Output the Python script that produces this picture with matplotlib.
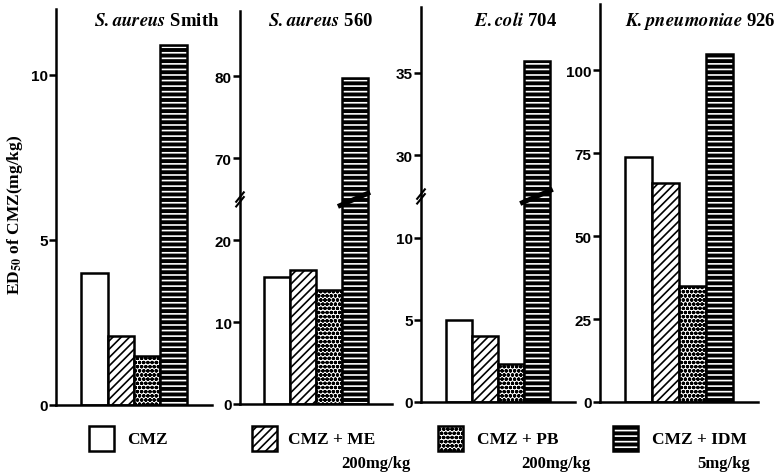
import numpy as np
import matplotlib
matplotlib.use("Agg")
import matplotlib.pyplot as plt
from matplotlib.patches import Rectangle

plt.rcParams['font.family'] = ['Liberation Serif', 'DejaVu Serif']
plt.rcParams['font.weight'] = 'bold'
plt.rcParams['mathtext.fontset'] = 'stix'
plt.rcParams['hatch.linewidth'] = 1.2

# data (ED50 of CMZ, mg/kg)
groups = ["CMZ", "CMZ+ME", "CMZ+PB", "CMZ+IDM"]
doses = ["", "200mg/kg", "200mg/kg", "5mg/kg"]
titles = [r"$\mathbfit{S.aureus}$ Smith", r"$\mathbfit{S.aureus}$ 560",
          r"$\mathbfit{E.coli}$ 704", r"$\mathbfit{K.pneumoniae}$ 926"]
sa_smith = [4.0, 2.1, 1.5, 10.9]
sa_560 = [15.5, 16.4, 13.9, 79.8]
ec_704 = [5.0, 4.0, 2.3, 35.7]
kp_926 = [74, 66, 35, 105]
values = [sa_smith, sa_560, ec_704, kp_926]

# axis setup per panel: top, ticks, break (lo, hi) or None
tops = [12, 88, 39, 120]
ticks = [[0, 5, 10], [0, 10, 20, 70, 80], [0, 5, 10, 30, 35], [0, 25, 50, 75, 100]]
breaks = [None, (25, 65), (12.5, 27.5), None]

faces = ["white", "white", "white", "black"]
hatches = [None, "////", "oooo", "---"]

# axes rectangles in pixels (left, right, bottom_y, top_y)
W, H = 779, 477
boxes = [(56, 212, 406, 10), (240, 392, 405, 12), (421, 575, 403, 8), (600, 758, 403, 5)]
title_x = [157, 321, 516, 700]


def broken(lo, hi):
    gap = 0.02

    def fwd(y):
        y = np.asarray(y, float)
        return np.where(y <= lo, y, np.where(y >= hi, lo + gap + (y - hi),
                                              lo + (y - lo) * gap / (hi - lo)))

    def inv(v):
        v = np.asarray(v, float)
        return np.where(v <= lo, v, np.where(v >= lo + gap, v - lo - gap + hi,
                                              lo + (v - lo) * (hi - lo) / gap))
    return fwd, inv


def draw_bars(ax, vals):
    x = np.arange(len(vals))
    for i in range(len(vals)):
        if i == 3:
            ax.bar(x[i], vals[i], width=1.0, color="black", hatch=hatches[i],
                   edgecolor="white", linewidth=0, zorder=2)
            ax.bar(x[i], vals[i], width=1.0, fill=False, edgecolor="black",
                   linewidth=1.8, zorder=3)
        else:
            ax.bar(x[i], vals[i], width=1.0, color=faces[i], hatch=hatches[i],
                   edgecolor="black", linewidth=1.8, zorder=2)


fig = plt.figure(figsize=(W / 100, H / 100), dpi=100)

for k in range(4):
    l, r, b, t = boxes[k]
    ax = fig.add_axes([l / W, 1 - b / H, (r - l) / W, (b - t) / H])
    if breaks[k] is not None:
        fwd, inv = broken(*breaks[k])
        ax.set_yscale('function', functions=(fwd, inv))
    draw_bars(ax, values[k])
    ax.set_xlim(-1.45, 4.45)
    ax.set_ylim(0, tops[k])
    ax.set_yticks(ticks[k])
    ax.set_xticks([])
    for s in ["top", "right"]:
        ax.spines[s].set_visible(False)
    for s in ["left", "bottom"]:
        ax.spines[s].set_linewidth(1.8)
    ax.tick_params(axis='y', length=5, width=1.8, labelsize=11, pad=1)
    for lab in ax.get_yticklabels():
        lab.set_fontweight('bold')
        lab.set_family(['Liberation Sans', 'DejaVu Sans'])
    fig.text(title_x[k] / W, 1 - 21 / H, titles[k], ha='center', va='center',
             fontsize=13.5, fontweight='bold')

    if breaks[k] is not None:
        lo, hi = breaks[k]
        fwd, _ = broken(lo, hi)
        fb = float(fwd(lo) / fwd(tops[k]))
        tr = ax.transAxes
        for dy in (-0.006, 0.006):
            ax.plot([-0.025, 0.025], [fb - 0.012 + dy, fb + 0.012 + dy], color="black",
                    lw=1.5, transform=tr, clip_on=False, zorder=4)
        tx = ax.get_xaxis_transform()
        ax.plot([2.35, 3.6], [fb - 0.018, fb + 0.018], color="black", lw=3.5,
                transform=tx, clip_on=False, zorder=5, solid_capstyle='butt')

fig.text(15 / W, 1 - 215 / H, r"ED$_{\mathbf{50}}$ of CMZ(mg/kg)", rotation=90,
         ha='center', va='center', fontsize=12.5, fontweight='bold')

# legend
leg_box_x = [89, 252, 438, 613]
leg_text_x = [127, 288, 477, 652]
dose_x = [None, 410, 590, 750]
for i in range(4):
    if i == 3:
        fig.patches.append(Rectangle((leg_box_x[i] / W, 1 - 452 / H), 25 / W, 25 / H,
                                     transform=fig.transFigure, facecolor="black",
                                     hatch=hatches[i], edgecolor="white", linewidth=0))
        fig.patches.append(Rectangle((leg_box_x[i] / W, 1 - 452 / H), 25 / W, 25 / H,
                                     transform=fig.transFigure, fill=False,
                                     edgecolor="black", linewidth=1.8))
    else:
        fig.patches.append(Rectangle((leg_box_x[i] / W, 1 - 452 / H), 25 / W, 25 / H,
                                     transform=fig.transFigure, facecolor=faces[i],
                                     hatch=hatches[i], edgecolor="black", linewidth=1.8))
    fig.text(leg_text_x[i] / W, 1 - 440 / H, groups[i].replace("+", " + "),
             ha='left', va='center', fontsize=12.5, fontweight='bold')
    if doses[i]:
        fig.text(dose_x[i] / W, 1 - 464 / H, doses[i], ha='right', va='center',
                 fontsize=12, fontweight='bold')

fig.savefig("out.png", dpi=100)
